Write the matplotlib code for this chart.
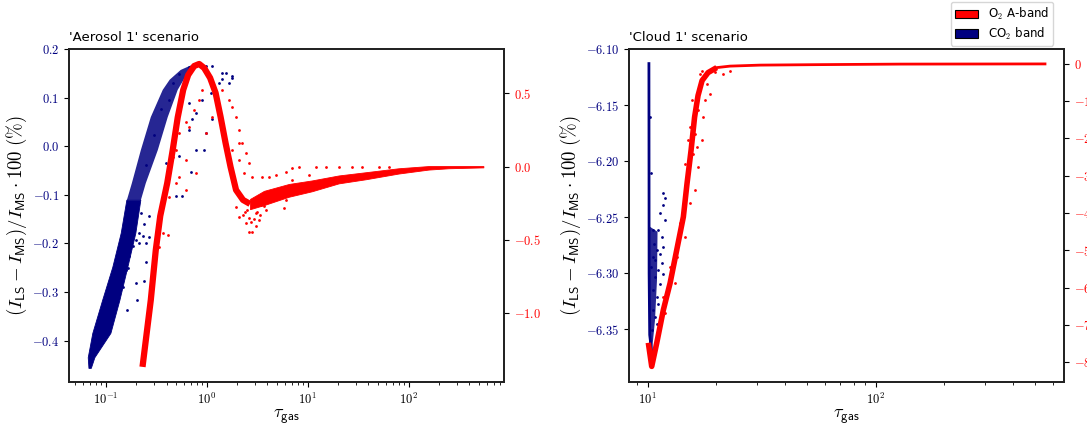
import numpy as np
import matplotlib
matplotlib.use('Agg')
import matplotlib.pyplot as plt
from matplotlib.patches import Patch
from matplotlib.ticker import FuncFormatter, MultipleLocator, NullFormatter

plt.rcParams['mathtext.fontset'] = 'cm'
plt.rcParams['axes.linewidth'] = 1.3
plt.rcParams['axes.edgecolor'] = '#222222'

# ---- 'Aerosol 1' scenario ----
# CO2 band: dense swath (x extent at each y level) plus loose points
co2_aer_band_y = [-0.456, -0.434, -0.384, -0.316, -0.248, -0.178, -0.110, -0.075, -0.007, 0.061, 0.117, 0.138, 0.158, 0.168, 0.173]
co2_aer_band_lo = [0.0673, 0.0662, 0.0735, 0.0920, 0.1160, 0.1405, 0.1598, 0.1791, 0.2198, 0.2759, 0.3624, 0.4251, 0.5461, 0.7014, 0.8414]
co2_aer_band_hi = [0.0710, 0.0770, 0.1110, 0.1363, 0.1634, 0.1961, 0.2198, 0.2462, 0.3236, 0.4062, 0.5099, 0.5845, 0.7014, 0.8414, 0.8414]
co2_aer_pts_x = [1.139, 1.429, 1.795, 1.664, 1.326, 1.098, 0.907, 1.230, 0.670, 0.780, 0.980, 0.534, 0.394, 0.575, 0.495,
                 0.670, 0.780, 1.139, 0.722, 0.942, 0.696, 0.2233, 0.2697, 0.2406, 0.2148, 0.2697, 0.2148, 0.1711, 0.1646, 0.1993,
                 0.2406, 0.1469, 0.534, 0.458, 0.670, 0.980, 1.544, 1.795, 1.429, 0.302, 0.354, 0.252, 0.425, 0.252, 0.205, 0.1634,
                 0.1264, 0.1363, 0.1469, 0.1587, 0.1416, 0.1311, 0.1216, 0.1170, 0.1128, 0.1527, 0.1711, 0.1844, 0.1646, 0.1993,
                 0.2315, 0.1844, 0.2502, 0.1587]
co2_aer_pts_y = [0.165, 0.151, 0.141, 0.131, 0.131, 0.110, 0.096, 0.103, 0.034, -0.007, 0.028, -0.021, -0.034, -0.103, -0.103,
                 0.089, 0.069, 0.055, 0.055, -0.007, -0.052, -0.137, -0.144, -0.161, -0.179, -0.186, -0.199, -0.213, -0.251, -0.282,
                 -0.278, -0.289, 0.148, 0.131, 0.162, 0.165, 0.151, 0.144, 0.138, 0.024, 0.076, -0.038, 0.096, -0.238, -0.316, -0.337,
                 -0.2816, -0.2748, -0.2610, -0.2542, -0.2887, -0.3023, -0.3229, -0.3367, -0.3505, -0.2336, -0.2268, -0.2062, -0.2165,
                 -0.1924, -0.1856, -0.1786, -0.1992, -0.2474]

# O2 A-band: main curve up to the dip, widening tail, loose points
o2_aer_x = [0.2310, 0.2791, 0.3127, 0.3463, 0.4062, 0.4603, 0.5159, 0.5845, 0.6549, 0.7510, 0.8414, 0.9425, 1.080, 1.224,
            1.372, 1.537, 1.722, 1.952, 2.289, 2.685]
o2_aer_y = [-1.365, -0.909, -0.568, -0.336, -0.111, 0.114, 0.336, 0.523, 0.625, 0.686, 0.700, 0.673, 0.605, 0.503,
            0.339, 0.161, -0.002, -0.159, -0.227, -0.254]
o2_aer_tail_x = [2.685, 3.691, 6.52, 11.0, 20.3, 37.6, 79.6, 157.6, 248.5, 551.0]
o2_aer_tail_hi = [-0.220, -0.165, -0.118, -0.094, -0.060, -0.038, -0.011, 0.004, 0.004, 0.004]
o2_aer_tail_lo = [-0.290, -0.262, -0.205, -0.168, -0.114, -0.086, -0.047, -0.020, -0.011, -0.005]
o2_aer_pts_x = [0.622, 0.534, 0.670, 0.751, 0.841, 0.907, 0.495, 0.458, 0.622, 0.534, 0.495, 0.425, 0.622, 0.780, 0.980,
                1.139, 1.429, 1.664, 1.795, 1.940, 2.090, 2.253, 2.435, 2.624, 2.829, 2.090, 1.795, 2.090, 2.342, 1.940,
                2.090, 2.435, 2.829, 2.624, 3.295, 3.837, 3.057, 2.253, 3.551, 4.137, 4.818, 6.048, 7.029, 8.185, 11.97,
                15.03, 20.34, 27.53, 34.55, 5.194, 7.595, 12.90, 4.459, 6.048, 5.819, 7.029, 10.28, 50.5, 63.4, 2.507,
                3.148, 3.448, 3.953, 2.289, 2.747, 3.077, 4.634, 0.365, 0.409, 0.339, 2.60, 2.95, 3.35, 2.40, 3.70]
o2_aer_pts_y = [0.307, 0.228, 0.273, 0.386, 0.454, 0.522, 0.114, 0.068, 0.046, -0.068, -0.113, -0.205, -0.159, -0.045, 0.228,
                0.341, 0.523, 0.455, 0.409, 0.341, 0.250, 0.160, 0.091, 0.023, -0.068, 0.046, 0.114, 0.160, -0.045, -0.273,
                -0.341, -0.386, -0.443, -0.443, -0.363, -0.295, -0.318, -0.227, -0.068, -0.068, -0.057, -0.034, -0.011, -0.004, -0.004,
                -0.004, 0.0, 0.0, -0.004, -0.181, -0.159, -0.136, -0.227, -0.227, -0.284, -0.091, -0.057, 0.0, 0.0, -0.295,
                -0.309, -0.261, -0.241, -0.329, -0.377, -0.404, -0.200, -0.454, -0.466, -0.545, -0.350, -0.360, -0.330, -0.310, -0.270]

# ---- 'Cloud 1' scenario ----
co2_cld_x = [10.12, 10.13, 10.14, 10.20, 10.41]
co2_cld_y = [-6.113, -6.20, -6.30, -6.355, -6.370]
co2_cld_wedge_x = [10.13, 11.04, 10.98, 10.76, 10.50, 10.41, 10.13]
co2_cld_wedge_y = [-6.258, -6.263, -6.306, -6.342, -6.364, -6.371, -6.364]
co2_cld_pts_x = [11.71, 11.91, 11.64, 11.32, 11.91, 11.13, 11.52, 11.71, 11.32, 10.95, 11.52, 11.13, 11.71, 10.76, 11.32,
                 10.58, 10.95, 11.13, 10.58, 10.76, 10.95, 10.41, 10.23, 10.31, 10.52, 10.66, 10.52, 10.31, 10.76]
co2_cld_pts_y = [-6.2288, -6.2333, -6.2393, -6.2467, -6.2527, -6.2616, -6.2676, -6.2765, -6.2824, -6.2795, -6.2913, -6.2973,
                 -6.3003, -6.3033, -6.3092, -6.3152, -6.3212, -6.3271, -6.3330, -6.3390, -6.3449, -6.3509, -6.1604, -6.2110,
                 -6.2616, -6.2735, -6.2854, -6.2944, -6.2884]

o2_cld_x = [10.06, 10.41, 10.95, 11.71, 12.53, 13.40, 14.33, 14.87, 15.49, 16.05, 16.62, 17.31, 18.39, 20.07]
o2_cld_y = [-7.479, -8.112, -7.487, -6.596, -5.882, -4.992, -4.102, -3.209, -2.318, -1.428, -0.848, -0.447, -0.233, -0.099]
o2_cld_flat_x = [20.07, 22.96, 31.10, 57.0, 127.9, 552.6]
o2_cld_flat_y = [-0.099, -0.059, -0.032, -0.019, -0.005, 0.0]
o2_cld_pts_x = [16.96, 17.25, 18.15, 18.76, 17.84, 16.67, 17.53, 15.60, 16.13, 17.25, 15.33, 16.67, 15.07, 16.13, 14.58,
                15.33, 13.86, 14.58, 13.40, 12.53, 13.18, 11.71, 11.91, 11.32, 16.40, 15.85, 14.58, 15.07, 15.33, 19.73,
                21.46, 22.96]
o2_cld_pts_y = [-0.267, -0.179, -0.535, -0.802, -0.981, -1.249, -1.428, -0.981, -1.872, -2.051, -2.586, -2.765, -3.032,
                -3.388, -3.834, -3.743, -4.278, -4.636, -5.171, -5.439, -5.882, -6.241, -6.684, -7.043, -2.230, -2.406,
                -2.674, -2.051, -1.695, -0.225, -0.267, -0.179]


def fmt(decimals):
    def f(v, pos):
        if abs(v) < 1e-9:
            v = 0.0
        return '$%.*f$' % (decimals, v)
    return FuncFormatter(f)


logfmt = FuncFormatter(lambda v, pos: '$10^{%d}$' % int(round(np.log10(v))))

fig = plt.figure(figsize=(10.87, 4.25), dpi=100)
ax1 = fig.add_axes([0.0635, 0.1012, 0.4002, 0.7835])
ax1r = ax1.twinx()
ax2 = fig.add_axes([0.5787, 0.1012, 0.4002, 0.7835])
ax2r = ax2.twinx()

# left panel
b = np.array(co2_aer_band_y)
lo = np.array(co2_aer_band_lo)
hi = np.array(co2_aer_band_hi)
ax1.fill_betweenx(b[:7], lo[:7], hi[:7], color='navy', lw=0.6)
ax1.fill_betweenx(b[6:], lo[6:], hi[6:], color='navy', alpha=0.85, lw=0)
ax1.scatter(co2_aer_pts_x, co2_aer_pts_y, s=4, color='navy', lw=0)
ax1r.plot(o2_aer_x, o2_aer_y, color='red', lw=4.5, solid_capstyle='butt')
ax1r.fill_between(o2_aer_tail_x, o2_aer_tail_lo, o2_aer_tail_hi, color='red', lw=0.6)
ax1r.scatter(o2_aer_pts_x, o2_aer_pts_y, s=4, color='red', lw=0)

ax1.set_xscale('log')
ax1.set_xlim(0.0432, 883)
ax1.set_ylim(-0.485, 0.2)
ax1r.set_ylim(-1.468, 0.802)
ax1.yaxis.set_major_locator(MultipleLocator(0.1))
ax1.yaxis.set_major_formatter(fmt(1))
ax1r.yaxis.set_major_locator(MultipleLocator(0.5))
ax1r.yaxis.set_major_formatter(fmt(1))
ax1.set_title("'Aerosol 1' scenario", loc='left', fontsize=9.5)

# right panel
ax2.plot(co2_cld_x, co2_cld_y, color='navy', lw=2.0)
ax2.fill(co2_cld_wedge_x, co2_cld_wedge_y, color='navy', alpha=0.85, lw=0)
ax2.scatter(co2_cld_pts_x, co2_cld_pts_y, s=4, color='navy', lw=0)
ax2r.plot(o2_cld_x, o2_cld_y, color='red', lw=4, solid_capstyle='butt')
ax2r.plot(o2_cld_flat_x, o2_cld_flat_y, color='red', lw=2.0)
ax2r.scatter(o2_cld_pts_x, o2_cld_pts_y, s=4, color='red', lw=0)

ax2.set_xscale('log')
ax2.set_xlim(8.28, 670)
ax2.set_ylim(-6.397, -6.10)
ax2r.set_ylim(-8.53, 0.40)
ax2.yaxis.set_major_locator(MultipleLocator(0.05))
ax2.yaxis.set_major_formatter(fmt(2))
ax2r.yaxis.set_major_locator(MultipleLocator(1))
ax2r.yaxis.set_major_formatter(fmt(0))
ax2.set_title("'Cloud 1' scenario", loc='left', fontsize=9.5)

ylab = r'$(I_{\mathsf{LS}}-I_{\mathsf{MS}})/I_{\mathsf{MS}}\cdot 100\ (\%)$'
for ax, axr in [(ax1, ax1r), (ax2, ax2r)]:
    ax.xaxis.set_major_formatter(logfmt)
    ax.xaxis.set_minor_formatter(NullFormatter())
    ax.tick_params(axis='x', labelsize=9)
    ax.tick_params(axis='y', labelsize=9, labelcolor='navy')
    axr.tick_params(axis='y', labelsize=9, labelcolor='red')
    ax.set_xlabel(r'$\tau_{\mathsf{gas}}$', fontsize=13, labelpad=0)
    ax.set_ylabel(ylab, fontsize=13.5, labelpad=2)

handles = [Patch(facecolor='red', edgecolor='black', lw=0.8, label=r'O$_2$ A-band'),
           Patch(facecolor='navy', edgecolor='black', lw=0.8, label=r'CO$_2$ band')]
fig.legend(handles=handles, loc='upper right', bbox_to_anchor=(0.9687, 0.9953), borderaxespad=0,
           fontsize=8.5, labelspacing=0.3, borderpad=0.35)

fig.savefig('out.png', dpi=100)
